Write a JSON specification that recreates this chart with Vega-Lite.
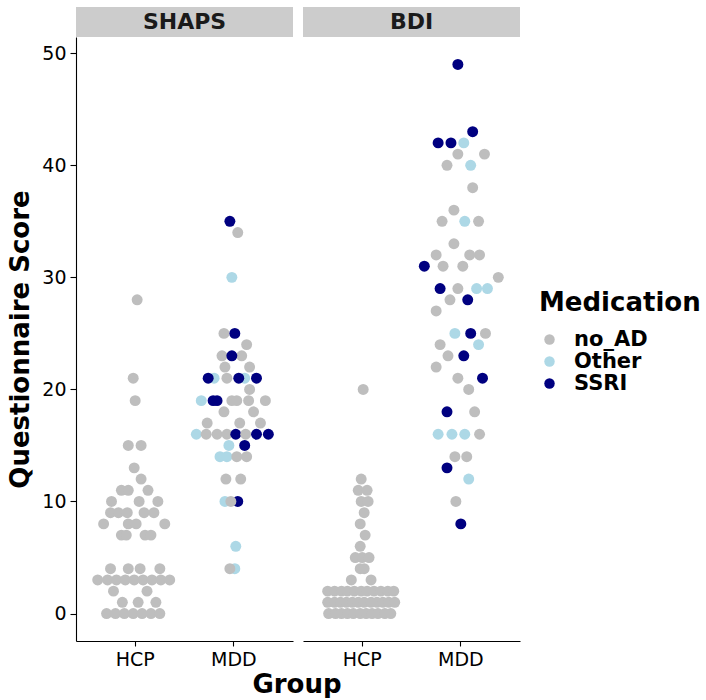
{
  "$schema": "https://vega.github.io/schema/vega-lite/v6.json",
  "background": "white",
  "padding": {"left": 7, "top": 7, "right": 5, "bottom": 0},
  "title": {"text": "Group", "orient": "bottom", "anchor": "start", "align": "center", "frame": "group", "dx": 221, "offset": 3, "fontSize": 26, "fontWeight": "bold", "color": "black", "font": "DejaVu Sans"},
  "config": {
    "font": "DejaVu Sans",
    "view": {"stroke": null},
    "axis": {"domainColor": "black", "domainWidth": 1.1, "tickColor": "black", "tickWidth": 1.1, "labelColor": "black", "titleColor": "black", "grid": false, "labelFont": "DejaVu Sans", "titleFont": "DejaVu Sans"}
  },
  "datasets": {
    "scores": [
      {"Questionnaire":"SHAPS","Group":"HCP","Score":28,"Medication":"no_AD","Offset":0.02},
      {"Questionnaire":"SHAPS","Group":"HCP","Score":21,"Medication":"no_AD","Offset":-0.02},
      {"Questionnaire":"SHAPS","Group":"HCP","Score":19,"Medication":"no_AD","Offset":0},
      {"Questionnaire":"SHAPS","Group":"HCP","Score":15,"Medication":"no_AD","Offset":-0.07},
      {"Questionnaire":"SHAPS","Group":"HCP","Score":15,"Medication":"no_AD","Offset":0.06},
      {"Questionnaire":"SHAPS","Group":"HCP","Score":13,"Medication":"no_AD","Offset":-0.01},
      {"Questionnaire":"SHAPS","Group":"HCP","Score":12,"Medication":"no_AD","Offset":0.06},
      {"Questionnaire":"SHAPS","Group":"HCP","Score":11,"Medication":"no_AD","Offset":-0.14},
      {"Questionnaire":"SHAPS","Group":"HCP","Score":11,"Medication":"no_AD","Offset":-0.07},
      {"Questionnaire":"SHAPS","Group":"HCP","Score":11,"Medication":"no_AD","Offset":0.13},
      {"Questionnaire":"SHAPS","Group":"HCP","Score":10,"Medication":"no_AD","Offset":-0.24},
      {"Questionnaire":"SHAPS","Group":"HCP","Score":10,"Medication":"no_AD","Offset":0.04},
      {"Questionnaire":"SHAPS","Group":"HCP","Score":10,"Medication":"no_AD","Offset":0.23},
      {"Questionnaire":"SHAPS","Group":"HCP","Score":9,"Medication":"no_AD","Offset":-0.25},
      {"Questionnaire":"SHAPS","Group":"HCP","Score":9,"Medication":"no_AD","Offset":-0.17},
      {"Questionnaire":"SHAPS","Group":"HCP","Score":9,"Medication":"no_AD","Offset":-0.08},
      {"Questionnaire":"SHAPS","Group":"HCP","Score":9,"Medication":"no_AD","Offset":0.09},
      {"Questionnaire":"SHAPS","Group":"HCP","Score":9,"Medication":"no_AD","Offset":0.19},
      {"Questionnaire":"SHAPS","Group":"HCP","Score":8,"Medication":"no_AD","Offset":-0.32},
      {"Questionnaire":"SHAPS","Group":"HCP","Score":8,"Medication":"no_AD","Offset":-0.07},
      {"Questionnaire":"SHAPS","Group":"HCP","Score":8,"Medication":"no_AD","Offset":0.01},
      {"Questionnaire":"SHAPS","Group":"HCP","Score":8,"Medication":"no_AD","Offset":0.30},
      {"Questionnaire":"SHAPS","Group":"HCP","Score":7,"Medication":"no_AD","Offset":-0.14},
      {"Questionnaire":"SHAPS","Group":"HCP","Score":7,"Medication":"no_AD","Offset":-0.09},
      {"Questionnaire":"SHAPS","Group":"HCP","Score":7,"Medication":"no_AD","Offset":0.10},
      {"Questionnaire":"SHAPS","Group":"HCP","Score":7,"Medication":"no_AD","Offset":0.16},
      {"Questionnaire":"SHAPS","Group":"HCP","Score":4,"Medication":"no_AD","Offset":-0.25},
      {"Questionnaire":"SHAPS","Group":"HCP","Score":4,"Medication":"no_AD","Offset":-0.07},
      {"Questionnaire":"SHAPS","Group":"HCP","Score":4,"Medication":"no_AD","Offset":0.05},
      {"Questionnaire":"SHAPS","Group":"HCP","Score":4,"Medication":"no_AD","Offset":0.25},
      {"Questionnaire":"SHAPS","Group":"HCP","Score":3,"Medication":"no_AD","Offset":-0.38},
      {"Questionnaire":"SHAPS","Group":"HCP","Score":3,"Medication":"no_AD","Offset":-0.28},
      {"Questionnaire":"SHAPS","Group":"HCP","Score":3,"Medication":"no_AD","Offset":-0.19},
      {"Questionnaire":"SHAPS","Group":"HCP","Score":3,"Medication":"no_AD","Offset":-0.10},
      {"Questionnaire":"SHAPS","Group":"HCP","Score":3,"Medication":"no_AD","Offset":-0.01},
      {"Questionnaire":"SHAPS","Group":"HCP","Score":3,"Medication":"no_AD","Offset":0.08},
      {"Questionnaire":"SHAPS","Group":"HCP","Score":3,"Medication":"no_AD","Offset":0.17},
      {"Questionnaire":"SHAPS","Group":"HCP","Score":3,"Medication":"no_AD","Offset":0.26},
      {"Questionnaire":"SHAPS","Group":"HCP","Score":3,"Medication":"no_AD","Offset":0.35},
      {"Questionnaire":"SHAPS","Group":"HCP","Score":2,"Medication":"no_AD","Offset":-0.22},
      {"Questionnaire":"SHAPS","Group":"HCP","Score":2,"Medication":"no_AD","Offset":0.12},
      {"Questionnaire":"SHAPS","Group":"HCP","Score":1,"Medication":"no_AD","Offset":-0.13},
      {"Questionnaire":"SHAPS","Group":"HCP","Score":1,"Medication":"no_AD","Offset":0.03},
      {"Questionnaire":"SHAPS","Group":"HCP","Score":1,"Medication":"no_AD","Offset":0.21},
      {"Questionnaire":"SHAPS","Group":"HCP","Score":0,"Medication":"no_AD","Offset":-0.29},
      {"Questionnaire":"SHAPS","Group":"HCP","Score":0,"Medication":"no_AD","Offset":-0.20},
      {"Questionnaire":"SHAPS","Group":"HCP","Score":0,"Medication":"no_AD","Offset":-0.11},
      {"Questionnaire":"SHAPS","Group":"HCP","Score":0,"Medication":"no_AD","Offset":-0.02},
      {"Questionnaire":"SHAPS","Group":"HCP","Score":0,"Medication":"no_AD","Offset":0.07},
      {"Questionnaire":"SHAPS","Group":"HCP","Score":0,"Medication":"no_AD","Offset":0.16},
      {"Questionnaire":"SHAPS","Group":"HCP","Score":0,"Medication":"no_AD","Offset":0.25},

      {"Questionnaire":"SHAPS","Group":"MDD","Score":35,"Medication":"SSRI","Offset":-0.04},
      {"Questionnaire":"SHAPS","Group":"MDD","Score":34,"Medication":"no_AD","Offset":0.04},
      {"Questionnaire":"SHAPS","Group":"MDD","Score":30,"Medication":"Other","Offset":-0.02},
      {"Questionnaire":"SHAPS","Group":"MDD","Score":25,"Medication":"no_AD","Offset":-0.10},
      {"Questionnaire":"SHAPS","Group":"MDD","Score":25,"Medication":"SSRI","Offset":0.01},
      {"Questionnaire":"SHAPS","Group":"MDD","Score":24,"Medication":"no_AD","Offset":0.13},
      {"Questionnaire":"SHAPS","Group":"MDD","Score":23,"Medication":"no_AD","Offset":-0.12},
      {"Questionnaire":"SHAPS","Group":"MDD","Score":23,"Medication":"no_AD","Offset":0.08},
      {"Questionnaire":"SHAPS","Group":"MDD","Score":23,"Medication":"SSRI","Offset":-0.02},
      {"Questionnaire":"SHAPS","Group":"MDD","Score":22,"Medication":"no_AD","Offset":-0.09},
      {"Questionnaire":"SHAPS","Group":"MDD","Score":22,"Medication":"no_AD","Offset":0.16},
      {"Questionnaire":"SHAPS","Group":"MDD","Score":21,"Medication":"Other","Offset":-0.20},
      {"Questionnaire":"SHAPS","Group":"MDD","Score":21,"Medication":"Other","Offset":0.11},
      {"Questionnaire":"SHAPS","Group":"MDD","Score":21,"Medication":"SSRI","Offset":-0.26},
      {"Questionnaire":"SHAPS","Group":"MDD","Score":21,"Medication":"no_AD","Offset":-0.07},
      {"Questionnaire":"SHAPS","Group":"MDD","Score":21,"Medication":"SSRI","Offset":0.05},
      {"Questionnaire":"SHAPS","Group":"MDD","Score":21,"Medication":"SSRI","Offset":0.23},
      {"Questionnaire":"SHAPS","Group":"MDD","Score":20,"Medication":"no_AD","Offset":0.16},
      {"Questionnaire":"SHAPS","Group":"MDD","Score":19,"Medication":"Other","Offset":-0.33},
      {"Questionnaire":"SHAPS","Group":"MDD","Score":19,"Medication":"SSRI","Offset":-0.21},
      {"Questionnaire":"SHAPS","Group":"MDD","Score":19,"Medication":"SSRI","Offset":-0.17},
      {"Questionnaire":"SHAPS","Group":"MDD","Score":19,"Medication":"no_AD","Offset":-0.02},
      {"Questionnaire":"SHAPS","Group":"MDD","Score":19,"Medication":"no_AD","Offset":0.03},
      {"Questionnaire":"SHAPS","Group":"MDD","Score":19,"Medication":"no_AD","Offset":0.15},
      {"Questionnaire":"SHAPS","Group":"MDD","Score":19,"Medication":"no_AD","Offset":0.32},
      {"Questionnaire":"SHAPS","Group":"MDD","Score":18,"Medication":"no_AD","Offset":-0.10},
      {"Questionnaire":"SHAPS","Group":"MDD","Score":18,"Medication":"no_AD","Offset":0.20},
      {"Questionnaire":"SHAPS","Group":"MDD","Score":17,"Medication":"no_AD","Offset":-0.27},
      {"Questionnaire":"SHAPS","Group":"MDD","Score":17,"Medication":"no_AD","Offset":0.06},
      {"Questionnaire":"SHAPS","Group":"MDD","Score":17,"Medication":"no_AD","Offset":0.27},
      {"Questionnaire":"SHAPS","Group":"MDD","Score":16,"Medication":"Other","Offset":-0.38},
      {"Questionnaire":"SHAPS","Group":"MDD","Score":16,"Medication":"no_AD","Offset":-0.28},
      {"Questionnaire":"SHAPS","Group":"MDD","Score":16,"Medication":"no_AD","Offset":-0.17},
      {"Questionnaire":"SHAPS","Group":"MDD","Score":16,"Medication":"no_AD","Offset":-0.07},
      {"Questionnaire":"SHAPS","Group":"MDD","Score":16,"Medication":"SSRI","Offset":0.02},
      {"Questionnaire":"SHAPS","Group":"MDD","Score":16,"Medication":"no_AD","Offset":0.12},
      {"Questionnaire":"SHAPS","Group":"MDD","Score":16,"Medication":"SSRI","Offset":0.23},
      {"Questionnaire":"SHAPS","Group":"MDD","Score":16,"Medication":"SSRI","Offset":0.35},
      {"Questionnaire":"SHAPS","Group":"MDD","Score":15,"Medication":"Other","Offset":-0.05},
      {"Questionnaire":"SHAPS","Group":"MDD","Score":15,"Medication":"SSRI","Offset":0.11},
      {"Questionnaire":"SHAPS","Group":"MDD","Score":14,"Medication":"Other","Offset":-0.14},
      {"Questionnaire":"SHAPS","Group":"MDD","Score":14,"Medication":"Other","Offset":-0.07},
      {"Questionnaire":"SHAPS","Group":"MDD","Score":14,"Medication":"no_AD","Offset":0.03},
      {"Questionnaire":"SHAPS","Group":"MDD","Score":14,"Medication":"no_AD","Offset":0.13},
      {"Questionnaire":"SHAPS","Group":"MDD","Score":12,"Medication":"no_AD","Offset":-0.08},
      {"Questionnaire":"SHAPS","Group":"MDD","Score":12,"Medication":"no_AD","Offset":0.07},
      {"Questionnaire":"SHAPS","Group":"MDD","Score":10,"Medication":"Other","Offset":-0.09},
      {"Questionnaire":"SHAPS","Group":"MDD","Score":10,"Medication":"SSRI","Offset":0.04},
      {"Questionnaire":"SHAPS","Group":"MDD","Score":10,"Medication":"no_AD","Offset":-0.03},
      {"Questionnaire":"SHAPS","Group":"MDD","Score":6,"Medication":"Other","Offset":0.02},
      {"Questionnaire":"SHAPS","Group":"MDD","Score":4,"Medication":"Other","Offset":0.01},
      {"Questionnaire":"SHAPS","Group":"MDD","Score":4,"Medication":"no_AD","Offset":-0.04},

      {"Questionnaire":"BDI","Group":"HCP","Score":20,"Medication":"no_AD","Offset":0.01},
      {"Questionnaire":"BDI","Group":"HCP","Score":12,"Medication":"no_AD","Offset":-0.01},
      {"Questionnaire":"BDI","Group":"HCP","Score":11,"Medication":"no_AD","Offset":-0.04},
      {"Questionnaire":"BDI","Group":"HCP","Score":11,"Medication":"no_AD","Offset":0.05},
      {"Questionnaire":"BDI","Group":"HCP","Score":10,"Medication":"no_AD","Offset":-0.01},
      {"Questionnaire":"BDI","Group":"HCP","Score":10,"Medication":"no_AD","Offset":0.06},
      {"Questionnaire":"BDI","Group":"HCP","Score":9,"Medication":"no_AD","Offset":0.02},
      {"Questionnaire":"BDI","Group":"HCP","Score":8,"Medication":"no_AD","Offset":-0.02},
      {"Questionnaire":"BDI","Group":"HCP","Score":7,"Medication":"no_AD","Offset":0.03},
      {"Questionnaire":"BDI","Group":"HCP","Score":6,"Medication":"no_AD","Offset":-0.02},
      {"Questionnaire":"BDI","Group":"HCP","Score":5,"Medication":"no_AD","Offset":-0.07},
      {"Questionnaire":"BDI","Group":"HCP","Score":5,"Medication":"no_AD","Offset":0},
      {"Questionnaire":"BDI","Group":"HCP","Score":5,"Medication":"no_AD","Offset":0.07},
      {"Questionnaire":"BDI","Group":"HCP","Score":4,"Medication":"no_AD","Offset":-0.02},
      {"Questionnaire":"BDI","Group":"HCP","Score":4,"Medication":"no_AD","Offset":0.02},
      {"Questionnaire":"BDI","Group":"HCP","Score":3,"Medication":"no_AD","Offset":-0.11},
      {"Questionnaire":"BDI","Group":"HCP","Score":3,"Medication":"no_AD","Offset":0.09},
      {"Questionnaire":"BDI","Group":"HCP","Score":2,"Medication":"no_AD","Offset":-0.35},
      {"Questionnaire":"BDI","Group":"HCP","Score":2,"Medication":"no_AD","Offset":-0.28},
      {"Questionnaire":"BDI","Group":"HCP","Score":2,"Medication":"no_AD","Offset":-0.21},
      {"Questionnaire":"BDI","Group":"HCP","Score":2,"Medication":"no_AD","Offset":-0.15},
      {"Questionnaire":"BDI","Group":"HCP","Score":2,"Medication":"no_AD","Offset":-0.08},
      {"Questionnaire":"BDI","Group":"HCP","Score":2,"Medication":"no_AD","Offset":-0.01},
      {"Questionnaire":"BDI","Group":"HCP","Score":2,"Medication":"no_AD","Offset":0.05},
      {"Questionnaire":"BDI","Group":"HCP","Score":2,"Medication":"no_AD","Offset":0.12},
      {"Questionnaire":"BDI","Group":"HCP","Score":2,"Medication":"no_AD","Offset":0.19},
      {"Questionnaire":"BDI","Group":"HCP","Score":2,"Medication":"no_AD","Offset":0.26},
      {"Questionnaire":"BDI","Group":"HCP","Score":2,"Medication":"no_AD","Offset":0.32},
      {"Questionnaire":"BDI","Group":"HCP","Score":1,"Medication":"no_AD","Offset":-0.35},
      {"Questionnaire":"BDI","Group":"HCP","Score":1,"Medication":"no_AD","Offset":-0.28},
      {"Questionnaire":"BDI","Group":"HCP","Score":1,"Medication":"no_AD","Offset":-0.22},
      {"Questionnaire":"BDI","Group":"HCP","Score":1,"Medication":"no_AD","Offset":-0.16},
      {"Questionnaire":"BDI","Group":"HCP","Score":1,"Medication":"no_AD","Offset":-0.10},
      {"Questionnaire":"BDI","Group":"HCP","Score":1,"Medication":"no_AD","Offset":-0.04},
      {"Questionnaire":"BDI","Group":"HCP","Score":1,"Medication":"no_AD","Offset":0.02},
      {"Questionnaire":"BDI","Group":"HCP","Score":1,"Medication":"no_AD","Offset":0.09},
      {"Questionnaire":"BDI","Group":"HCP","Score":1,"Medication":"no_AD","Offset":0.15},
      {"Questionnaire":"BDI","Group":"HCP","Score":1,"Medication":"no_AD","Offset":0.21},
      {"Questionnaire":"BDI","Group":"HCP","Score":1,"Medication":"no_AD","Offset":0.27},
      {"Questionnaire":"BDI","Group":"HCP","Score":1,"Medication":"no_AD","Offset":0.33},
      {"Questionnaire":"BDI","Group":"HCP","Score":0,"Medication":"no_AD","Offset":-0.34},
      {"Questionnaire":"BDI","Group":"HCP","Score":0,"Medication":"no_AD","Offset":-0.27},
      {"Questionnaire":"BDI","Group":"HCP","Score":0,"Medication":"no_AD","Offset":-0.21},
      {"Questionnaire":"BDI","Group":"HCP","Score":0,"Medication":"no_AD","Offset":-0.15},
      {"Questionnaire":"BDI","Group":"HCP","Score":0,"Medication":"no_AD","Offset":-0.09},
      {"Questionnaire":"BDI","Group":"HCP","Score":0,"Medication":"no_AD","Offset":-0.02},
      {"Questionnaire":"BDI","Group":"HCP","Score":0,"Medication":"no_AD","Offset":0.04},
      {"Questionnaire":"BDI","Group":"HCP","Score":0,"Medication":"no_AD","Offset":0.10},
      {"Questionnaire":"BDI","Group":"HCP","Score":0,"Medication":"no_AD","Offset":0.16},
      {"Questionnaire":"BDI","Group":"HCP","Score":0,"Medication":"no_AD","Offset":0.23},
      {"Questionnaire":"BDI","Group":"HCP","Score":0,"Medication":"no_AD","Offset":0.29},

      {"Questionnaire":"BDI","Group":"MDD","Score":49,"Medication":"SSRI","Offset":-0.03},
      {"Questionnaire":"BDI","Group":"MDD","Score":43,"Medication":"SSRI","Offset":0.12},
      {"Questionnaire":"BDI","Group":"MDD","Score":42,"Medication":"SSRI","Offset":-0.23},
      {"Questionnaire":"BDI","Group":"MDD","Score":42,"Medication":"SSRI","Offset":-0.10},
      {"Questionnaire":"BDI","Group":"MDD","Score":42,"Medication":"Other","Offset":0.03},
      {"Questionnaire":"BDI","Group":"MDD","Score":41,"Medication":"no_AD","Offset":-0.03},
      {"Questionnaire":"BDI","Group":"MDD","Score":41,"Medication":"no_AD","Offset":0.24},
      {"Questionnaire":"BDI","Group":"MDD","Score":40,"Medication":"no_AD","Offset":-0.14},
      {"Questionnaire":"BDI","Group":"MDD","Score":40,"Medication":"Other","Offset":0.10},
      {"Questionnaire":"BDI","Group":"MDD","Score":38,"Medication":"no_AD","Offset":0.12},
      {"Questionnaire":"BDI","Group":"MDD","Score":36,"Medication":"no_AD","Offset":-0.07},
      {"Questionnaire":"BDI","Group":"MDD","Score":35,"Medication":"no_AD","Offset":-0.19},
      {"Questionnaire":"BDI","Group":"MDD","Score":35,"Medication":"Other","Offset":0.04},
      {"Questionnaire":"BDI","Group":"MDD","Score":35,"Medication":"no_AD","Offset":0.18},
      {"Questionnaire":"BDI","Group":"MDD","Score":33,"Medication":"no_AD","Offset":-0.07},
      {"Questionnaire":"BDI","Group":"MDD","Score":32,"Medication":"no_AD","Offset":-0.25},
      {"Questionnaire":"BDI","Group":"MDD","Score":32,"Medication":"no_AD","Offset":0.09},
      {"Questionnaire":"BDI","Group":"MDD","Score":32,"Medication":"no_AD","Offset":0.19},
      {"Questionnaire":"BDI","Group":"MDD","Score":31,"Medication":"SSRI","Offset":-0.37},
      {"Questionnaire":"BDI","Group":"MDD","Score":31,"Medication":"no_AD","Offset":-0.18},
      {"Questionnaire":"BDI","Group":"MDD","Score":31,"Medication":"no_AD","Offset":0.02},
      {"Questionnaire":"BDI","Group":"MDD","Score":30,"Medication":"no_AD","Offset":0.38},
      {"Questionnaire":"BDI","Group":"MDD","Score":29,"Medication":"SSRI","Offset":-0.21},
      {"Questionnaire":"BDI","Group":"MDD","Score":29,"Medication":"no_AD","Offset":-0.03},
      {"Questionnaire":"BDI","Group":"MDD","Score":29,"Medication":"Other","Offset":0.16},
      {"Questionnaire":"BDI","Group":"MDD","Score":29,"Medication":"Other","Offset":0.27},
      {"Questionnaire":"BDI","Group":"MDD","Score":28,"Medication":"no_AD","Offset":-0.11},
      {"Questionnaire":"BDI","Group":"MDD","Score":28,"Medication":"SSRI","Offset":0.07},
      {"Questionnaire":"BDI","Group":"MDD","Score":27,"Medication":"no_AD","Offset":-0.25},
      {"Questionnaire":"BDI","Group":"MDD","Score":25,"Medication":"Other","Offset":-0.06},
      {"Questionnaire":"BDI","Group":"MDD","Score":25,"Medication":"SSRI","Offset":0.10},
      {"Questionnaire":"BDI","Group":"MDD","Score":25,"Medication":"no_AD","Offset":0.25},
      {"Questionnaire":"BDI","Group":"MDD","Score":24,"Medication":"no_AD","Offset":-0.21},
      {"Questionnaire":"BDI","Group":"MDD","Score":24,"Medication":"Other","Offset":0.18},
      {"Questionnaire":"BDI","Group":"MDD","Score":23,"Medication":"no_AD","Offset":-0.13},
      {"Questionnaire":"BDI","Group":"MDD","Score":23,"Medication":"SSRI","Offset":0.03},
      {"Questionnaire":"BDI","Group":"MDD","Score":22,"Medication":"no_AD","Offset":-0.25},
      {"Questionnaire":"BDI","Group":"MDD","Score":21,"Medication":"no_AD","Offset":-0.03},
      {"Questionnaire":"BDI","Group":"MDD","Score":21,"Medication":"SSRI","Offset":0.22},
      {"Questionnaire":"BDI","Group":"MDD","Score":20,"Medication":"no_AD","Offset":0.08},
      {"Questionnaire":"BDI","Group":"MDD","Score":18,"Medication":"SSRI","Offset":-0.14},
      {"Questionnaire":"BDI","Group":"MDD","Score":18,"Medication":"no_AD","Offset":0.14},
      {"Questionnaire":"BDI","Group":"MDD","Score":16,"Medication":"Other","Offset":-0.23},
      {"Questionnaire":"BDI","Group":"MDD","Score":16,"Medication":"Other","Offset":-0.09},
      {"Questionnaire":"BDI","Group":"MDD","Score":16,"Medication":"Other","Offset":0.04},
      {"Questionnaire":"BDI","Group":"MDD","Score":16,"Medication":"no_AD","Offset":0.19},
      {"Questionnaire":"BDI","Group":"MDD","Score":14,"Medication":"no_AD","Offset":-0.06},
      {"Questionnaire":"BDI","Group":"MDD","Score":14,"Medication":"no_AD","Offset":0.06},
      {"Questionnaire":"BDI","Group":"MDD","Score":13,"Medication":"SSRI","Offset":-0.14},
      {"Questionnaire":"BDI","Group":"MDD","Score":12,"Medication":"Other","Offset":0.08},
      {"Questionnaire":"BDI","Group":"MDD","Score":10,"Medication":"no_AD","Offset":-0.05},
      {"Questionnaire":"BDI","Group":"MDD","Score":8,"Medication":"SSRI","Offset":0.00}
    ]
  },
  "hconcat": [
    {
      "spacing": 0,
      "vconcat": [
        {
          "width": 217, "height": 30,
          "data": {"values": [{"Questionnaire": "SHAPS"}]},
          "layer": [
            {"mark": {"type": "rect", "color": "#cccccc"}, "encoding": {}},
            {"mark": {"type": "text", "fontSize": 22, "fontWeight": "bold", "color": "#1a1a1a", "font": "DejaVu Sans"},
             "encoding": {"text": {"field": "Questionnaire"}}}
          ]
        },
        {
          "width": 217, "height": 604,
          "data": {"name": "scores"},
          "transform": [{"filter": "datum.Questionnaire === 'SHAPS'"}],
          "mark": {"type": "circle", "size": 120, "opacity": 1},
          "encoding": {
            "x": {"field": "Group", "type": "nominal", "sort": ["HCP", "MDD"],
                  "scale": {"type": "band", "paddingInner": 0, "paddingOuter": 0.1},
                  "axis": {"title": null, "labelAngle": 0, "labelFontSize": 19, "tickSize": 5, "labelPadding": 4}},
            "xOffset": {"field": "Offset", "type": "quantitative", "scale": {"domain": [-1, 1], "range": [-49.32, 147.96]}},
            "y": {"field": "Score", "type": "quantitative",
                  "scale": {"domain": [-2.45, 51.45], "nice": false, "zero": false},
                  "axis": {"title": "Questionnaire Score", "values": [0, 10, 20, 30, 40, 50], "labelFontSize": 19, "tickSize": 6, "labelPadding": 4, "titleFontSize": 26, "titleFontWeight": "bold", "titlePadding": 8}},
            "color": {"field": "Medication", "type": "nominal",
                      "scale": {"domain": ["no_AD", "Other", "SSRI"], "range": ["#bebebe", "#add8e6", "#000080"]},
                      "legend": {"title": "Medication", "orient": "none", "legendX": 463, "legendY": 283, "titleFontSize": 26, "titleFontWeight": "bold", "titleColor": "black", "labelFontSize": 21, "labelFontWeight": "bold", "labelColor": "black", "symbolType": "circle", "symbolSize": 110, "symbolStrokeWidth": 0, "labelOffset": 14, "rowPadding": 0, "titlePadding": 13}}
          }
        }
      ],
      "resolve": {"scale": {"color": "shared"}, "legend": {"color": "shared"}}
    },
    {
      "spacing": 0,
      "vconcat": [
        {
          "width": 217, "height": 30,
          "data": {"values": [{"Questionnaire": "BDI"}]},
          "layer": [
            {"mark": {"type": "rect", "color": "#cccccc"}, "encoding": {}},
            {"mark": {"type": "text", "fontSize": 22, "fontWeight": "bold", "color": "#1a1a1a", "font": "DejaVu Sans"},
             "encoding": {"text": {"field": "Questionnaire"}}}
          ]
        },
        {
          "width": 217, "height": 604,
          "data": {"name": "scores"},
          "transform": [{"filter": "datum.Questionnaire === 'BDI'"}],
          "mark": {"type": "circle", "size": 120, "opacity": 1},
          "encoding": {
            "x": {"field": "Group", "type": "nominal", "sort": ["HCP", "MDD"],
                  "scale": {"type": "band", "paddingInner": 0, "paddingOuter": 0.1},
                  "axis": {"title": null, "labelAngle": 0, "labelFontSize": 19, "tickSize": 5, "labelPadding": 4}},
            "xOffset": {"field": "Offset", "type": "quantitative", "scale": {"domain": [-1, 1], "range": [-49.32, 147.96]}},
            "y": {"field": "Score", "type": "quantitative",
                  "scale": {"domain": [-2.45, 51.45], "nice": false, "zero": false},
                  "axis": null},
            "color": {"field": "Medication", "type": "nominal",
                      "scale": {"domain": ["no_AD", "Other", "SSRI"], "range": ["#bebebe", "#add8e6", "#000080"]},
                      "legend": {"title": "Medication", "orient": "none", "legendX": 463, "legendY": 283}}
          }
        }
      ],
      "resolve": {"scale": {"color": "shared"}, "legend": {"color": "shared"}}
    }
  ],
  "spacing": 10,
  "resolve": {"scale": {"color": "shared"}, "legend": {"color": "shared"}}
}
